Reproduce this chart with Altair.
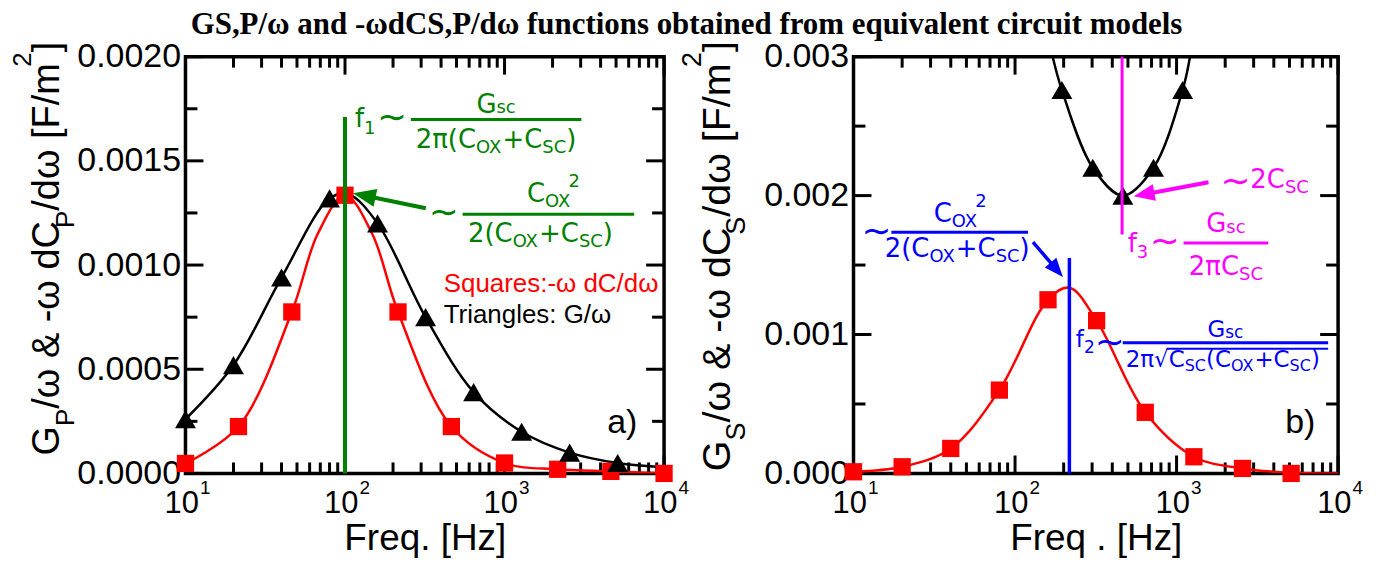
import math
import altair as alt
import pandas as pd

# ---------------- values ----------------
# panel a)
tri_f_a = [10, 20, 40, 80, 160, 320, 640, 1280, 2560, 5120]
tri_v_a = [0.00026, 0.00052, 0.00094, 0.00132, 0.00120, 0.00075, 0.00039, 0.00020, 0.00010, 0.00005]
sq_f_a = [10, 21.5, 46.4, 100, 215, 464, 1000, 2154, 4642, 10000]
sq_v_a = [0.000048, 0.000225, 0.000775, 0.001335, 0.000775, 0.000225, 0.00005, 0.00002, 0.00001, 0.0]
blk_f_a = [10, 20, 40, 80, 105, 160, 320, 640, 1280, 2560, 5120, 10000]
blk_v_a = [0.00026, 0.00052, 0.00094, 0.00132, 0.00134, 0.00120, 0.00075, 0.00039, 0.00020, 0.00010, 0.00005, 0.00003]
red_f_a = [10, 21.5, 46.4, 67.5, 100, 148, 215, 464, 1000, 2154, 4642, 10000]
red_v_a = [0.000048, 0.000225, 0.000775, 0.00115, 0.001335, 0.00115, 0.000775, 0.000225, 0.00005, 0.00002, 0.00001, 0.0]
f1_line = (100, 0.0, 0.00171)

# panel b)
sq_f_b = [10, 20, 40, 80, 160, 320, 640, 1280, 2560, 5120]
sq_v_b = [0.000012, 0.000048, 0.00018, 0.0006, 0.00125, 0.0011, 0.00044, 0.00012, 0.000036, 0.0]
red_f_b = [10, 20, 40, 80, 160, 217, 320, 640, 1280, 2560, 5120, 10000]
red_v_b = [0.000012, 0.000048, 0.00018, 0.0006, 0.00125, 0.001337, 0.0011, 0.00044, 0.00012, 0.000036, 0.000005, 0.0]
tri_f_b = [195, 303, 465, 720, 1090]
tri_v_b = [0.00276, 0.0022, 0.002, 0.0022, 0.00276]
blk_f_b = [171, 195, 303, 465, 720, 1090, 1211]
blk_v_b = [0.003, 0.00276, 0.0022, 0.002, 0.0022, 0.00276, 0.003]
f2_line = (217, 0.0, 0.00155)
f3_line = (460, 0.00172, 0.003)

# axes
x_major = [10, 100, 1000, 10000]
x_exp = ['1', '2', '3', '4']
x_minor = [k * 10 ** d for d in (1, 2, 3) for k in range(2, 10)]
y_major_a = [0, 0.0005, 0.001, 0.0015, 0.002]
y_minor_a = [0.00025, 0.00075, 0.00125, 0.00175]
y_major_b = [0, 0.001, 0.002, 0.003]
y_minor_b = [0.0005, 0.0015, 0.0025]

TITLE = "GS,P/ω and -ωdCS,P/dω functions obtained from equivalent circuit models"

# ---------------- layout ----------------
W_A, W_B, H = 480, 486, 418
GREEN, BLUE, MAG, RED = "#008000", "#0000ff", "#ff00ff", "#ff0000"
TS = 36  # tilde size

DJ = {'f': .352, '1': .636, '2': .636, '3': .636, '∼': .838, 'G': .775, 's': .521, 'c': .55,
      'π': .602, '(': .39, ')': .39, 'C': .698, 'O': .787, 'X': .685, '+': .838, 'S': .635,
      '√': .636, ' ': .318}
LB = {'G': .778, 'P': .667, 'S': .667, '/': .278, 'ω': .69, ' ': .278, '&': .667, '-': .333,
      'd': .556, 'C': .722, '[': .278, 'F': .611, 'm': .833, '2': .556, ']': .278,
      '0': .556, '1': .556, '3': .556, '4': .556}


class Pan:
    def __init__(s, W, H, vmax):
        s.W, s.H, s.vmax = W, H, vmax

    def fx(s, px):
        return 10 ** (1 + 3 * px / s.W)

    def px(s, f):
        return s.W * (math.log10(f) - 1) / 3

    def fy(s, py):
        return s.vmax * (1 - py / s.H)


def seg_w(segs, table=DJ):
    return sum(pre + sum(table.get(ch, .6) for ch in t) * s for t, s, dy, pre in segs)


def put(rows, pan, segs, x0, y0, color, table=DJ, rotated=False):
    a = 0.0
    for t, s, dy, pre in segs:
        a += pre
        if rotated:
            px, py = x0 + dy, y0 - a
        else:
            px, py = x0 + a, y0 + dy
        rows.append({'x': pan.fx(px), 'y': pan.fy(py), 't': t, 's': s, 'c': color})
        a += sum(table.get(ch, .6) for ch in t) * s
    return a


def put_c(rows, pan, segs, cx, y0, color, table=DJ):
    put(rows, pan, segs, cx - seg_w(segs, table) / 2, y0, color, table)


def tilde(rows, pan, x, yc, color):
    put(rows, pan, [('∼', TS, 0, 0)], x, yc + 0.3 * TS, color)


def line_px(rules, pan, p1, p2, color, w):
    rules.append({'x': pan.fx(p1[0]), 'x2': pan.fx(p2[0]), 'y': pan.fy(p1[1]),
                  'y2': pan.fy(p2[1]), 'c': color, 'w': w})


def arrow(ann, pan, tail, tip, color, w, L):
    dx, dy = tip[0] - tail[0], tip[1] - tail[1]
    n = math.hypot(dx, dy)
    ux, uy = dx / n, dy / n
    base = (tip[0] - ux * (L - 3), tip[1] - uy * (L - 3))
    line_px(ann['rules'], pan, tail, base, color, w)
    ang = math.degrees(math.atan2(dx, -dy)) % 360
    ann['heads'].append({'x': pan.fx(tip[0]), 'y': pan.fy(tip[1]), 'c': color, 'a': ang, 'sz': L * L})


def frac_den(s, ss, dy):
    return [('2(C', s, 0, 0), ('OX', ss, dy, 0), ('+C', s, 0, 0), ('SC', ss, dy, 0), (')', s, 0, 0)]


def ytitle(rows, pan, sub, bx, cy, fs=38):
    k = fs / 38
    segs = [('G', fs, 0, 0), (sub, 26 * k, 15 * k, 0), ('/ω & -ω dC', fs, 0, 0), (sub, 26 * k, 15 * k, 0),
            ('/dω [F/m', fs, 0, 0), ('2', 26 * k, -28 * k, 0), (']', fs, 0, 0)]
    w = seg_w(segs, LB)
    put(rows, pan, segs, bx, cy + w / 2, 'black', LB, rotated=True)


def xlabels(rows, pan):
    for f, e in zip(x_major, x_exp):
        segs = [('10', 31, 0, 0), (e, 19, -19, 1)]
        put_c(rows, pan, segs, pan.px(f) + 2, 458, 'black', LB)


# ---------- panel a annotations ----------
A = Pan(W_A, H, 0.002)
ann_a = {'rules': [], 'heads': [], 'dj': [], 'lb': [], 'yt': []}
ann_a['rules'].append({'x': f1_line[0], 'x2': f1_line[0], 'y': f1_line[1], 'y2': f1_line[2], 'c': GREEN, 'w': 4})
put(ann_a['dj'], A, [('f', 26, 0, 0), ('1', 18, 7, 0)], 170, 71, GREEN)
tilde(ann_a['dj'], A, 192, 62, GREEN)
line_px(ann_a['rules'], A, (226, 63), (397, 63), GREEN, 3)
put_c(ann_a['dj'], A, [('G', 26, 0, 0), ('sc', 18, 1, 0)], 311.5, 56, GREEN)
put_c(ann_a['dj'], A, [('2π(C', 26, 0, 0), ('OX', 18, 5, 0), ('+C', 26, 0, 0), ('SC', 18, 5, 0), (')', 26, 0, 0)],
      311.5, 92, GREEN)
tilde(ann_a['dj'], A, 244, 157, GREEN)
line_px(ann_a['rules'], A, (278, 158), (450, 158), GREEN, 3)
put_c(ann_a['dj'], A, [('C', 26, 0, 0), ('OX', 18, 5, 0), ('2', 18, -15, -3)], 369, 146, GREEN)
put_c(ann_a['dj'], A, frac_den(26, 18, 5), 356, 186, GREEN)
arrow(ann_a, A, (241, 152), (168, 137), GREEN, 4, 23)
ann_a['lb'].append({'x': A.fx(259), 'y': A.fy(236), 't': 'Squares:-ω dC/dω', 's': 26, 'c': RED})
ann_a['lb'].append({'x': A.fx(259), 'y': A.fy(267), 't': 'Triangles: G/ω', 's': 26, 'c': 'black'})
ann_a['lb'].append({'x': A.fx(423), 'y': A.fy(377), 't': 'a)', 's': 34, 'c': 'black'})
xlabels(ann_a['lb'], A)
ytitle(ann_a['yt'], A, 'P', -127, 192.5)

# ---------- panel b annotations ----------
B = Pan(W_B, H, 0.003)
ann_b = {'rules': [], 'heads': [], 'dj': [], 'lb': [], 'yt': []}
ann_b['rules'].append({'x': f3_line[0], 'x2': f3_line[0], 'y': f3_line[1], 'y2': f3_line[2], 'c': MAG, 'w': 3})
ann_b['rules'].append({'x': f2_line[0], 'x2': f2_line[0], 'y': f2_line[1], 'y2': f2_line[2], 'c': BLUE, 'w': 3.5})
# ~2Csc
tilde(ann_b['dj'], B, 368, 126, MAG)
put(ann_b['dj'], B, [('2C', 26, 0, 0), ('SC', 18, 5, 0)], 398, 132, MAG)
arrow(ann_b, B, (356, 126), (281, 140), MAG, 4, 21)
# f3
put(ann_b['dj'], B, [('f', 26, 0, 0), ('3', 18, 6, 0)], 275, 196, MAG)
tilde(ann_b['dj'], B, 297, 186, MAG)
line_px(ann_b['rules'], B, (331, 187), (416, 187), MAG, 3)
put_c(ann_b['dj'], B, [('G', 26, 0, 0), ('sc', 18, 1, 0)], 373.5, 176, MAG)
put_c(ann_b['dj'], B, [('2πC', 26, 0, 0), ('SC', 18, 5, 0)], 373.5, 219, MAG)
# blue Cox^2/(2(Cox+Csc))
tilde(ann_b['dj'], B, 8, 176, BLUE)
line_px(ann_b['rules'], B, (38, 176), (175, 176), BLUE, 3)
put_c(ann_b['dj'], B, [('C', 26, 0, 0), ('OX', 18, 5, 0), ('2', 18, -15, -3)], 107, 166, BLUE)
put_c(ann_b['dj'], B, frac_den(26, 18, 5), 104, 201, BLUE)
arrow(ann_b, B, (180, 186), (210, 221), BLUE, 3.5, 19)
# f2
put(ann_b['dj'], B, [('f', 23, 0, 0), ('2', 17, 6, 0)], 223, 291, BLUE)
tilde(ann_b['dj'], B, 242, 287, BLUE)
line_px(ann_b['rules'], B, (270, 287), (476, 287), BLUE, 3)
put_c(ann_b['dj'], B, [('G', 23, 0, 0), ('sc', 17, 1, 0)], 373, 281, BLUE)
den2_head = [('2π', 23, 0, 0), ('√', 23, 0, 0)]
den2_tail = [('C', 23, 0, 0), ('SC', 16, 4, 0), ('(C', 23, 0, 0), ('OX', 16, 4, 0), ('+C', 23, 0, 0),
             ('SC', 16, 4, 0), (')', 23, 0, 0)]
x_den = 273
put(ann_b['dj'], B, den2_head + den2_tail, x_den, 311, BLUE)
x_vin = x_den + seg_w(den2_head) - 2
line_px(ann_b['rules'], B, (x_vin, 293), (476, 293), BLUE, 2)
ann_b['lb'].append({'x': B.fx(433), 'y': B.fy(377), 't': 'b)', 's': 34, 'c': 'black'})
xlabels(ann_b['lb'], B)
ytitle(ann_b['yt'], B, 'S', -124, 200, 39.5)

# ---------------- chart construction ----------------
HEAD = "M0,0L-0.8,2L0.8,2Z"


def tick_df(pan, ymaj, ymin):
    rows = []
    for vals, ln in ((x_major, 18), (x_minor, 11)):
        for f in vals:
            d = pan.vmax * ln / pan.H
            rows.append({'x': f, 'x2': f, 'y': 0, 'y2': d})
            rows.append({'x': f, 'x2': f, 'y': pan.vmax, 'y2': pan.vmax - d})
    for vals, ln in ((ymaj, 18), (ymin, 12)):
        for v in vals:
            rows.append({'x': 10, 'x2': 10 ** (1 + 3 * ln / pan.W), 'y': v, 'y2': v})
            rows.append({'x': 10000, 'x2': 10 ** (4 - 3 * ln / pan.W), 'y': v, 'y2': v})
    return pd.DataFrame(rows)


def make_panel(pan, ymaj, ymin, fmt, xtitle, lines, sq, tri, ann):
    X = alt.X('x:Q', scale=alt.Scale(type='log', domain=[10, 10000], nice=False),
              axis=alt.Axis(values=x_major, labels=False, title=xtitle,
                            ticks=False, tickSize=0, domain=False, grid=False,
                            titleFont='Liberation Sans', titleFontSize=37, titleFontWeight='normal',
                            titlePadding=47, titleColor='black'))
    Y = alt.Y('y:Q', scale=alt.Scale(domain=[0, pan.vmax], nice=False, zero=False),
              axis=alt.Axis(values=ymaj, format=fmt, title=None, labelFont='Liberation Sans',
                            labelFontSize=34, labelPadding=5, labelFlush=False, labelOverlap=False,
                            ticks=False, tickSize=0, domain=False, grid=False, labelColor='black'))
    C = alt.Color('c:N', scale=None)
    layers = [
        alt.Chart(tick_df(pan, ymaj, ymin)).mark_rule(color='black', strokeWidth=3).encode(
            x=X, x2='x2:Q', y=Y, y2='y2:Q'),
        alt.Chart(lines).mark_line(clip=True, interpolate='catmull-rom', strokeWidth=2.5).encode(
            x=X, y=Y, color=C, detail='g:N'),
        alt.Chart(sq).mark_point(shape='square', filled=True, size=300, opacity=1,
                                 color=RED).encode(x=X, y=Y),
        alt.Chart(tri).mark_point(shape='triangle-up', filled=True, size=440, opacity=1,
                                  color='black').encode(x=X, y=Y),
        alt.Chart(pd.DataFrame(ann['rules'])).mark_rule(strokeCap='butt').encode(
            x=X, x2='x2:Q', y=Y, y2='y2:Q', color=C, strokeWidth=alt.StrokeWidth('w:Q', scale=None)),
        alt.Chart(pd.DataFrame(ann['heads'])).mark_point(shape=HEAD, filled=True, opacity=1).encode(
            x=X, y=Y, color=C, angle=alt.Angle('a:Q', scale=None), size=alt.Size('sz:Q', scale=None)),
        alt.Chart(pd.DataFrame(ann['dj'])).mark_text(font='DejaVu Sans', align='left',
                                                     baseline='alphabetic').encode(
            x=X, y=Y, text='t:N', size=alt.Size('s:Q', scale=None), color=C),
        alt.Chart(pd.DataFrame(ann['lb'])).mark_text(font='Liberation Sans', align='left',
                                                     baseline='alphabetic').encode(
            x=X, y=Y, text='t:N', size=alt.Size('s:Q', scale=None), color=C),
        alt.Chart(pd.DataFrame(ann['yt'])).mark_text(font='Liberation Sans', align='left',
                                                     baseline='alphabetic', angle=270).encode(
            x=X, y=Y, text='t:N', size=alt.Size('s:Q', scale=None), color=C),
    ]
    return alt.layer(*layers).properties(width=pan.W, height=pan.H)


lines_a = pd.DataFrame(
    [{'x': f, 'y': v, 'g': 'G/w', 'c': 'black'} for f, v in zip(blk_f_a, blk_v_a)] +
    [{'x': f, 'y': v, 'g': 'dC', 'c': RED} for f, v in zip(red_f_a, red_v_a)])
lines_b = pd.DataFrame(
    [{'x': f, 'y': v, 'g': 'G/w', 'c': 'black'} for f, v in zip(blk_f_b, blk_v_b)] +
    [{'x': f, 'y': v, 'g': 'dC', 'c': RED} for f, v in zip(red_f_b, red_v_b)])

pa = make_panel(A, y_major_a, y_minor_a, '.4f', 'Freq. [Hz]', lines_a,
                pd.DataFrame({'x': sq_f_a, 'y': sq_v_a}), pd.DataFrame({'x': tri_f_a, 'y': tri_v_a}), ann_a)
pb = make_panel(B, y_major_b, y_minor_b, '.3f', 'Freq . [Hz]', lines_b,
                pd.DataFrame({'x': sq_f_b, 'y': sq_v_b}), pd.DataFrame({'x': tri_f_b, 'y': tri_v_b}), ann_b)

chart = alt.hconcat(pa, pb, spacing=190, bounds='flush').properties(
    title=alt.TitleParams(TITLE, font='Liberation Serif', fontSize=31, fontWeight='bold',
                          anchor='middle', offset=-3, color='black'),
    padding={'left': 0, 'top': 0, 'right': 4, 'bottom': 0},
).configure_view(stroke='black', strokeWidth=3.5)

chart.save("out.html", embed_options={"renderer": "svg", "actions": False})
